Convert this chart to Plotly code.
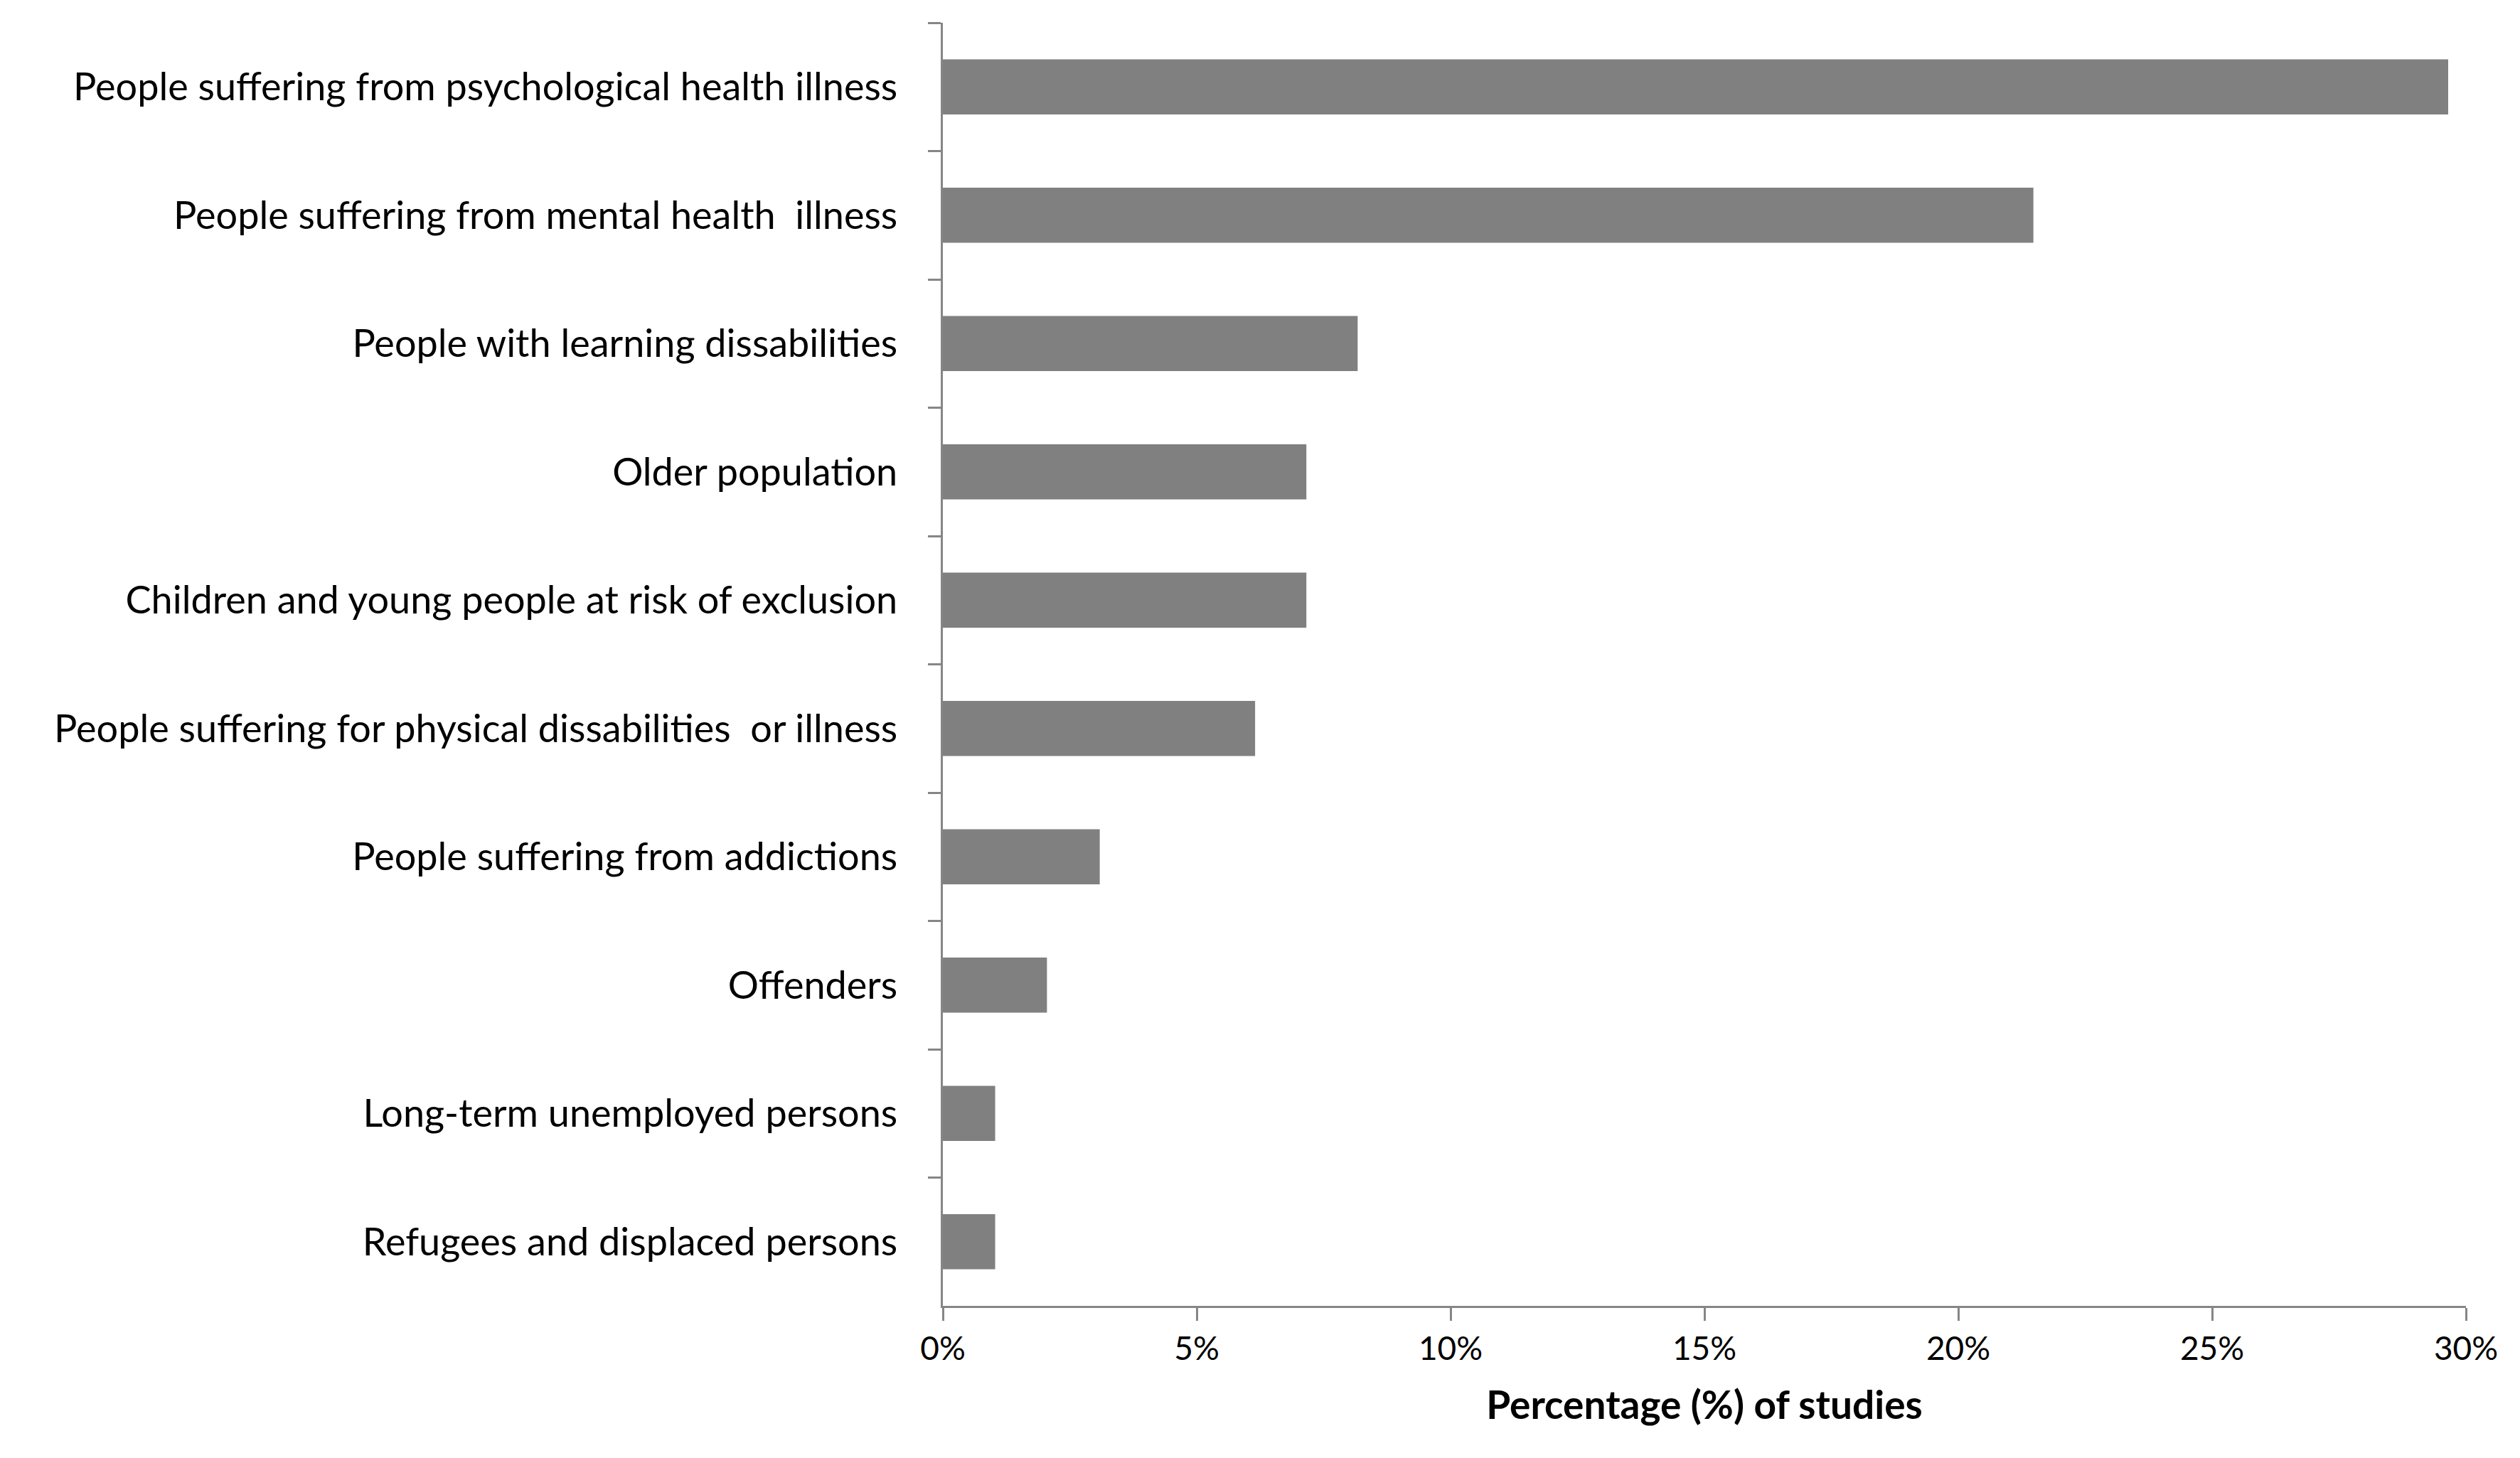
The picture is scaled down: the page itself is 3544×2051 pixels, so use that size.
import plotly.graph_objects as go

categories = [
    "People suffering from psychological health illness",
    "People suffering from mental health  illness",
    "People with learning dissabilities",
    "Older population",
    "Children and young people at risk of exclusion",
    "People suffering for physical dissabilities  or illness",
    "People suffering from addictions",
    "Offenders",
    "Long-term unemployed persons",
    "Refugees and displaced persons",
]
values = [29.65, 21.48, 8.17, 7.16, 7.16, 6.15, 3.09, 2.05, 1.03, 1.03]
x_ticks = [0, 5, 10, 15, 20, 25, 30]
x_tick_labels = ["0%", "5%", "10%", "15%", "20%", "25%", "30%"]

AXIS_GRAY = "#868686"
FONT = "Lato, 'Noto Sans', sans-serif"

fig = go.Figure(
    go.Bar(
        x=values,
        y=categories,
        orientation="h",
        marker=dict(color="#808080", line=dict(width=0)),
        width=0.43,
    )
)

fig.update_layout(
    width=3544,
    height=2051,
    margin=dict(l=1318, r=84, t=24, b=222),
    paper_bgcolor="white",
    plot_bgcolor="white",
    showlegend=False,
    font=dict(family=FONT, color="black"),
)

fig.update_xaxes(
    range=[0, 30],
    tickmode="array",
    tickvals=x_ticks,
    ticktext=x_tick_labels,
    showgrid=False,
    zeroline=False,
    showline=True,
    linecolor=AXIS_GRAY,
    linewidth=3,
    ticks="outside",
    ticklen=18,
    tickwidth=3,
    tickcolor=AXIS_GRAY,
    tickfont=dict(size=46, family=FONT, color="black"),
    title=dict(
        text="<b>Percentage (%) of studies</b>",
        font=dict(size=55, family=FONT, color="black"),
        standoff=36,
    ),
)

fig.update_yaxes(
    categoryorder="array",
    categoryarray=categories,
    range=[9.5, -0.5],
    showgrid=False,
    zeroline=False,
    showline=True,
    linecolor=AXIS_GRAY,
    linewidth=3,
    ticks="outside",
    tickson="boundaries",
    ticklen=18,
    tickwidth=3,
    tickcolor=AXIS_GRAY,
    ticklabelstandoff=50,
    tickfont=dict(size=54, family=FONT, color="black"),
)

fig.write_html("out.html")
